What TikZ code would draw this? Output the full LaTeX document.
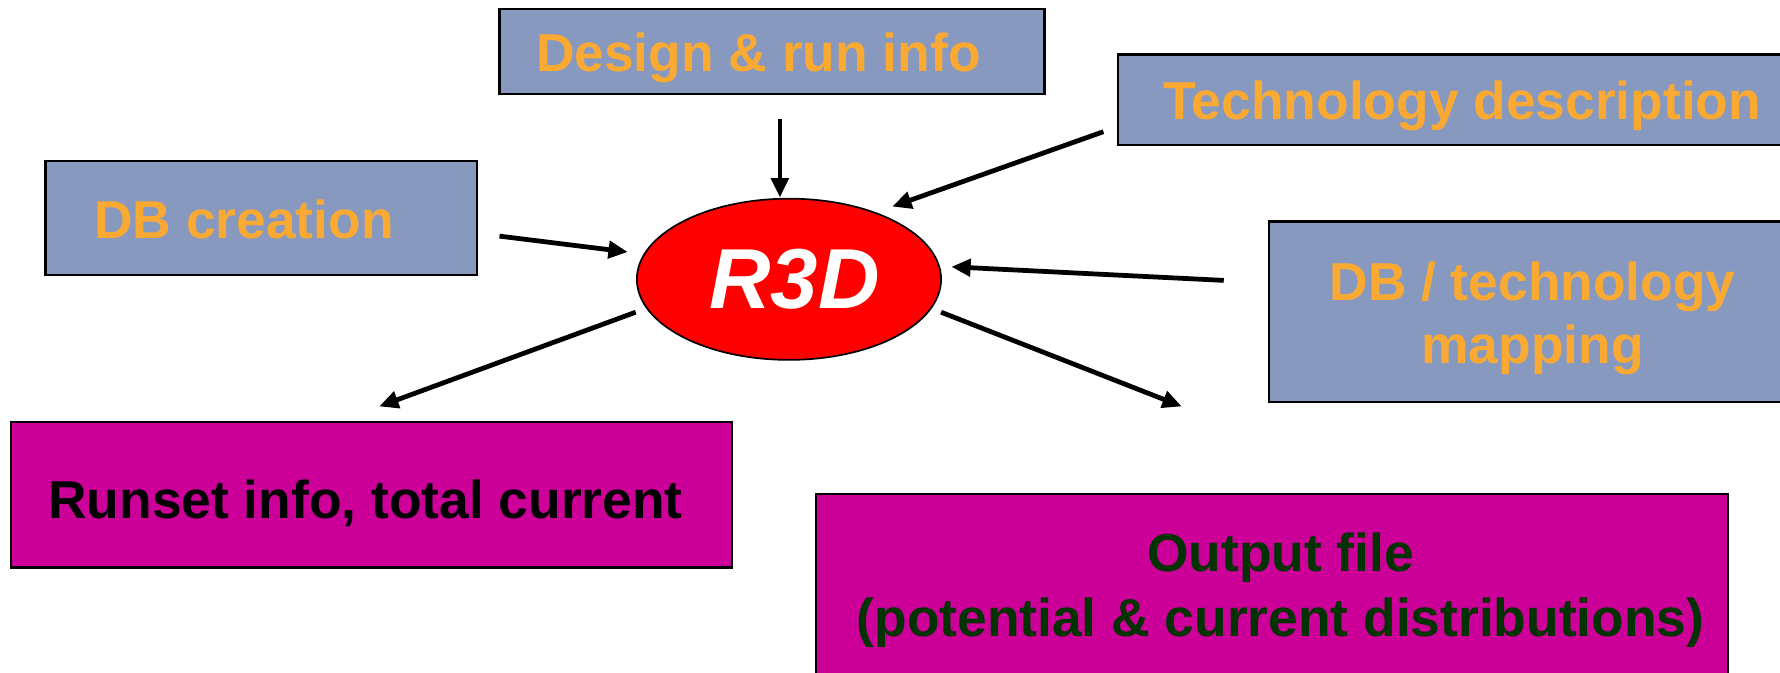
\documentclass[tikz,border=0pt]{standalone}
\usepackage{fontspec}
\setmainfont{Liberation Sans}
\usetikzlibrary{arrows.meta,shapes.geometric}
\definecolor{boxblue}{RGB}{136,153,192}
\definecolor{txtorange}{RGB}{250,170,50}
\definecolor{boxmag}{RGB}{204,0,153}
\definecolor{txtgreen}{RGB}{0,51,0}
\tikzset{
  inbox/.style={draw=black,line width=2pt,fill=boxblue},
  outbox/.style={draw=black,line width=2pt,fill=boxmag},
  lbl/.style={font=\fontsize{47}{56}\selectfont\bfseries,anchor=base,inner sep=0pt,align=center},
  arr/.style={line width=4.2pt,-{Triangle[length=17pt,width=15pt]}}
}
\begin{document}
\begin{tikzpicture}[x=1pt,y=-1pt]
\useasboundingbox (0,0) rectangle (1568,592);
% boxes
\draw[inbox] (440,8) rectangle (920,83);
\draw[inbox] (985,48) rectangle (1580,128);
\draw[inbox] (40,142) rectangle (420,242);
\draw[inbox] (1118,195) rectangle (1580,354);
\draw[outbox] (10,372) rectangle (645,500);
\draw[outbox] (719,435) rectangle (1522,600);
% labels
\node[lbl,text=txtorange] (design) at (668,63) {Design \& run info};
\node[lbl,text=txtorange] (tech) at (1288,105) {Technology description};
\node[lbl,text=txtorange] (dbc) at (215,210) {DB creation};
\node[lbl,text=txtorange] (map1) at (1350,265) {DB / technology};
\node[lbl,text=txtorange] (map2) at (1350,320) {mapping};
\node[lbl,text=black] (runset) at (322,457) {Runset info, total current};
\node[lbl,text=txtgreen] (out1) at (1128,503) {Output file};
\node[lbl,text=txtgreen] (out2) at (1128,561) {(potential \& current distributions)};
% ellipse
\node[ellipse,draw=black,line width=1.5pt,fill=red,minimum width=268pt,minimum height=142pt,inner sep=0pt] (r3d) at (695,246) {};
\node[font=\fontsize{75}{80}\selectfont\bfseries\itshape,text=white,anchor=base,inner sep=0pt] (r3dtxt) at (700,272) {R3D};
% arrow ends
\coordinate (a1s) at (687,105); \coordinate (a1e) at (687,174);
\coordinate (a2s) at (972,116); \coordinate (a2e) at (786,182);
\coordinate (a3s) at (440,208); \coordinate (a3e) at (553,222);
\coordinate (a4s) at (1078,247); \coordinate (a4e) at (838,235);
\coordinate (a5s) at (560,275); \coordinate (a5e) at (334,358);
\coordinate (a6s) at (829,275); \coordinate (a6e) at (1041,358);
\draw[arr] (a1s) -- (a1e);
\draw[arr] (a2s) -- (a2e);
\draw[arr] (a3s) -- (a3e);
\draw[arr] (a4s) -- (a4e);
\draw[arr] (a5s) -- (a5e);
\draw[arr] (a6s) -- (a6e);
\end{tikzpicture}
\end{document}
